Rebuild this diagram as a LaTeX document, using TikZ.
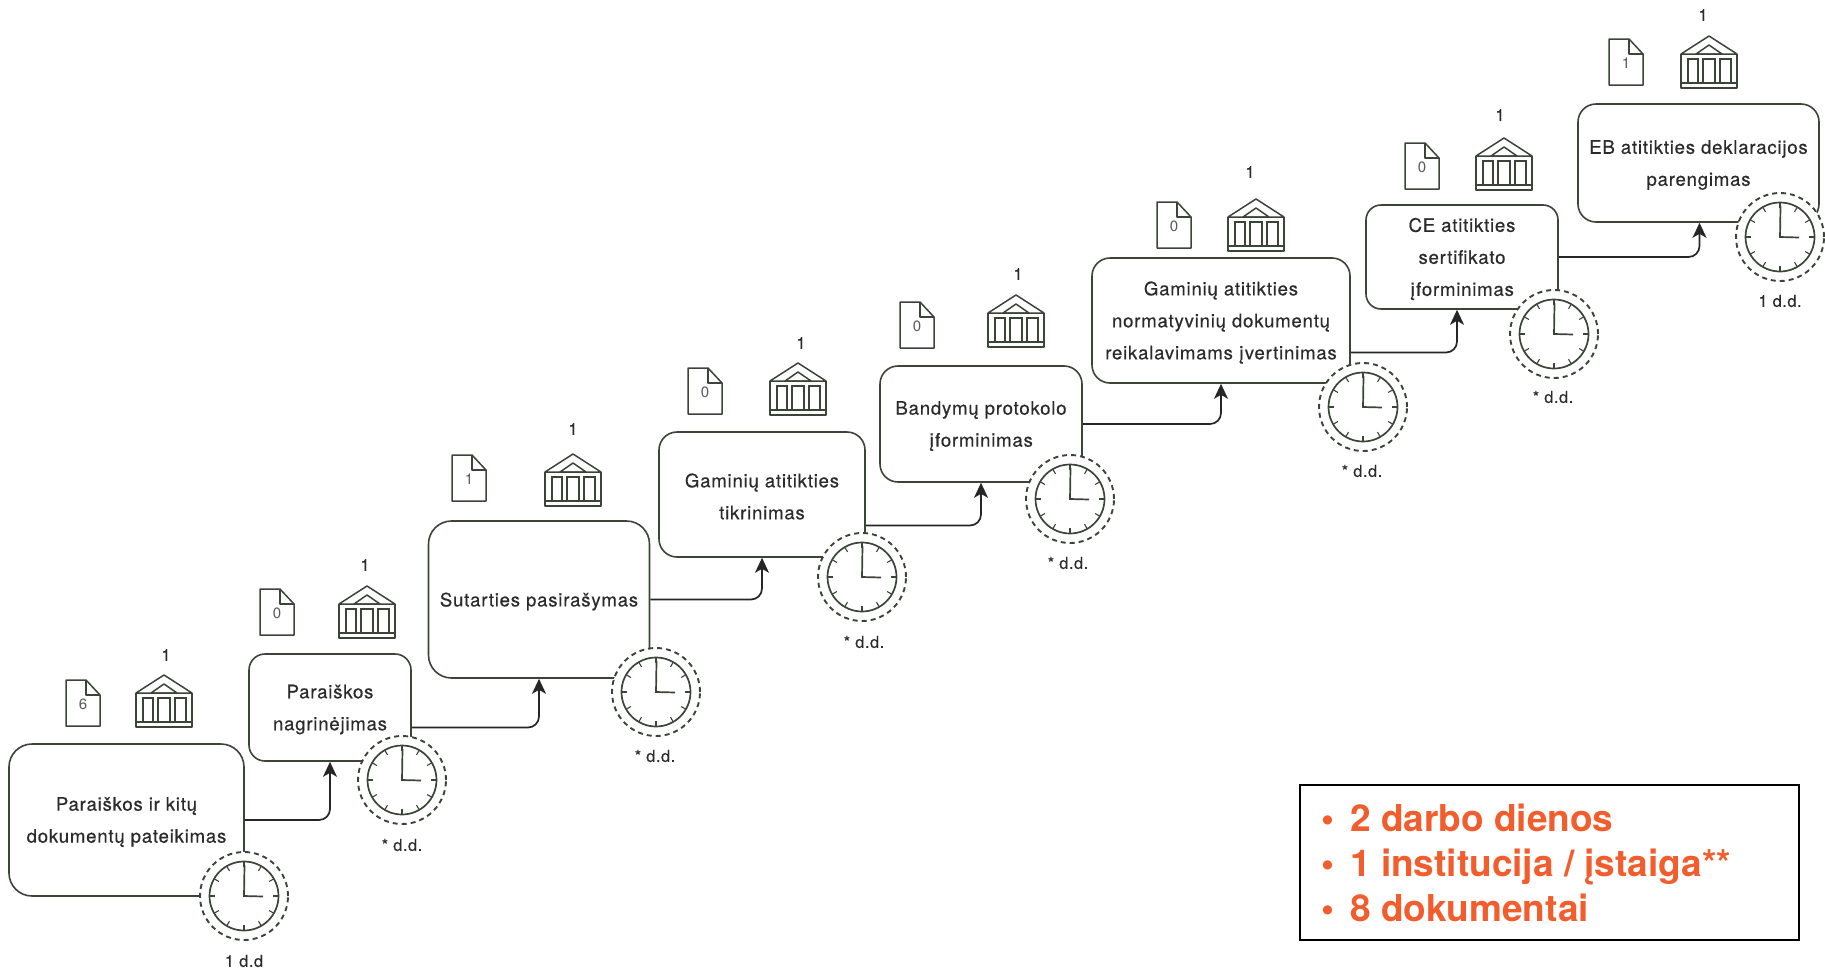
\documentclass[tikz,border=0pt]{standalone}
\usepackage{fontspec}
\setmainfont{TeX Gyre Heros}
\newfontfamily\stagefont{TeX Gyre Heros}[LetterSpace=4.2,FakeBold=0.45]
\newfontfamily\labelfont{TeX Gyre Heros}[LetterSpace=3,FakeBold=0.2]
\usetikzlibrary{arrows.meta}
\definecolor{ink}{HTML}{3A4538}
\definecolor{txt}{HTML}{2B2B2B}
\definecolor{accent}{HTML}{F15D2C}
\newcommand\stageline[1]{\raisebox{-2pt}[\height][\depth]{#1}}
\tikzset{
  stagebox/.style={draw=ink,line width=1.6pt,rounded corners=#1,fill=white,inner sep=0pt,align=center,text=txt,
    font=\stagefont\fontsize{18.6}{32}\selectfont},
  stagebox/.default=20pt,
  link/.style={draw=black!85,line width=1.7pt,rounded corners=11pt,-{Stealth[length=15pt,width=14pt,inset=4pt]}},
  lbl/.style={text=txt,inner sep=0pt,font=\labelfont\fontsize{16.5}{18}\selectfont},
  clockicon/.pic={
    \node[circle,draw=ink,line width=1.9pt,dash pattern=on 5pt off 4pt,fill=white,minimum size=88pt,inner sep=0pt] (-rim) at (0,0) {};
    \node[circle,draw=ink,line width=1.7pt,fill=white,minimum size=69pt,inner sep=0pt] (-face) at (0,0) {};
    \foreach \a in {0,30,...,330}
      \draw[ink,line width=1.1pt] (\a:34.5) -- (\a:29);
    \draw[ink,line width=1.7pt] (0.5,-31) -- (0,0) -- (19,0.5);
  },
  docicon/.pic={
    \draw[ink,line width=1.5pt,fill=white,line join=round]
      (-17,-23) -- (3,-23) -- (17,-8) -- (17,23) -- (-17,23) -- cycle;
    \draw[ink,line width=1.5pt,line join=round] (3,-23) -- (3,-8) -- (17,-8);
    \node[text=black!65,inner sep=0pt,font=\fontsize{15}{16}\selectfont] (-count) at (0,1) {\tikzpictext};
  },
  bankicon/.pic={
    \draw[ink,line width=1.5pt,line join=round]
      (-28,-8) -- (0,-26) -- (28,-8) -- cycle;
    \draw[ink,line width=1.5pt,line join=round]
      (-28,-8) -- (-28,26) -- (28,26) -- (28,-8);
    \draw[ink,line width=1.5pt] (-28,21) -- (28,21);
    \draw[ink,line width=1.5pt,line join=round] (-13,-8) -- (0,-17) -- (13,-8) -- cycle;
    \draw[ink,line width=1.5pt] (-21,-3) rectangle (-11,21);
    \draw[ink,line width=1.5pt] (-6,-3) rectangle (6,21);
    \draw[ink,line width=1.5pt] (11,-3) rectangle (22,21);
  },
}
\begin{document}
\begin{tikzpicture}[x=1pt,y=-1pt]
\useasboundingbox (0,0) rectangle (1825,969);
\begin{scope}[yshift=-1pt]
% stages
\node[stagebox=23pt,minimum width=235pt,minimum height=152pt] (s1) at (126.5,819) {\stageline{Paraiškos ir kitų}\\\stageline{dokumentų pateikimas}};
\node[stagebox=16pt,minimum width=162pt,minimum height=107pt] (s2) at (330,706.5) {\stageline{Paraiškos}\\\stageline{nagrinėjimas}};
\node[stagebox=23pt,minimum width=221pt,minimum height=157pt] (s3) at (539,598.5) {\stageline{Sutarties pasirašymas}};
\node[stagebox=18pt,minimum width=206pt,minimum height=125pt] (s4) at (762,493.5) {\stageline{Gaminių atitikties}\\\stageline{tikrinimas}};
\node[stagebox=18pt,minimum width=202pt,minimum height=116pt] (s5) at (981,423) {\stageline{Bandymų protokolo}\\\stageline{įforminimas}};
\node[stagebox=18pt,minimum width=258pt,minimum height=125pt] (s6) at (1221,319.5) {\stageline{Gaminių atitikties}\\\stageline{normatyvinių dokumentų}\\\stageline{reikalavimams įvertinimas}};
\node[stagebox=15pt,minimum width=192pt,minimum height=104pt] (s7) at (1462,256) {\stageline{CE atitikties}\\\stageline{sertifikato}\\\stageline{įforminimas}};
\node[stagebox=18pt,minimum width=241pt,minimum height=118pt] (s8) at (1698.5,162) {\stageline{EB atitikties deklaracijos}\\\stageline{parengimas}};
% connectors
\coordinate (c2) at ([yshift=-20pt]s2.east);
\coordinate (c4) at ([yshift=-31pt]s4.east);
\coordinate (c6) at ([yshift=-32pt]s6.east);
\coordinate (e7) at ([xshift=-5pt]s7.south);
\coordinate (e8) at ([xshift=1pt]s8.south);
\draw[link] (s1.east) -| (s2.south);
\draw[link] (c2) -| (s3.south);
\draw[link] (s3.east) -| (s4.south);
\draw[link] (c4) -| (s5.south);
\draw[link] (s5.east) -| (s6.south);
\draw[link] (c6) -| (e7);
\draw[link] (s7.east) -| (e8);
% clocks
\pic (k1) at (244,895) {clockicon};
\pic (k2) at (402,779) {clockicon};
\pic (k3) at (656,691) {clockicon};
\pic (k4) at (862,576) {clockicon};
\pic (k5) at (1070,498) {clockicon};
\pic (k6) at (1363,406) {clockicon};
\pic (k7) at (1554,333) {clockicon};
\pic (k8) at (1780,236) {clockicon};
\node[lbl] (t1) at (244,960) {1 d.d};
\node[lbl] (t2) at (402,844) {* d.d.};
\node[lbl] (t3) at (655,755) {* d.d.};
\node[lbl] (t4) at (864,641) {* d.d.};
\node[lbl] (t5) at (1068,562) {* d.d.};
\node[lbl] (t6) at (1362,470) {* d.d.};
\node[lbl] (t7) at (1553,396) {* d.d.};
\node[lbl] (t8) at (1780,300) {1 d.d.};
% documents
\pic[pic text=6] (d1) at (83,702) {docicon};
\pic[pic text=0] (d2) at (277,611) {docicon};
\pic[pic text=1] (d3) at (469,477) {docicon};
\pic[pic text=0] (d4) at (705,390) {docicon};
\pic[pic text=0] (d5) at (917,324) {docicon};
\pic[pic text=0] (d6) at (1174,224) {docicon};
\pic[pic text=0] (d7) at (1422,165) {docicon};
\pic[pic text=1] (d8) at (1626,61) {docicon};
% institutions
\pic (b1) at (164,700) {bankicon};
\pic (b2) at (367,611) {bankicon};
\pic (b3) at (573,479) {bankicon};
\pic (b4) at (798,388) {bankicon};
\pic (b5) at (1016,320) {bankicon};
\pic (b6) at (1256,224) {bankicon};
\pic (b7) at (1504,163) {bankicon};
\pic (b8) at (1709,61) {bankicon};
\node[lbl] (n1) at (166,654) {1};
\node[lbl] (n2) at (365,564) {1};
\node[lbl] (n3) at (573,428) {1};
\node[lbl] (n4) at (801,342) {1};
\node[lbl] (n5) at (1018,273) {1};
\node[lbl] (n6) at (1250,171) {1};
\node[lbl] (n7) at (1500,114) {1};
\node[lbl] (n8) at (1703,14) {1};
\end{scope}
% summary
\node[draw=black,line width=2pt,minimum width=499pt,minimum height=155pt,inner sep=0pt] (panel) at (1549.5,862) {};
\node[anchor=west,inner sep=0pt,align=left,text=accent,font=\fontsize{37}{45}\selectfont\bfseries] (summary) at (1321,863)
 {\makebox[29pt][l]{•}2 darbo dienos\\\makebox[29pt][l]{•}1 institucija / įstaiga**\\\makebox[29pt][l]{•}8 dokumentai};
\end{tikzpicture}
\end{document}
